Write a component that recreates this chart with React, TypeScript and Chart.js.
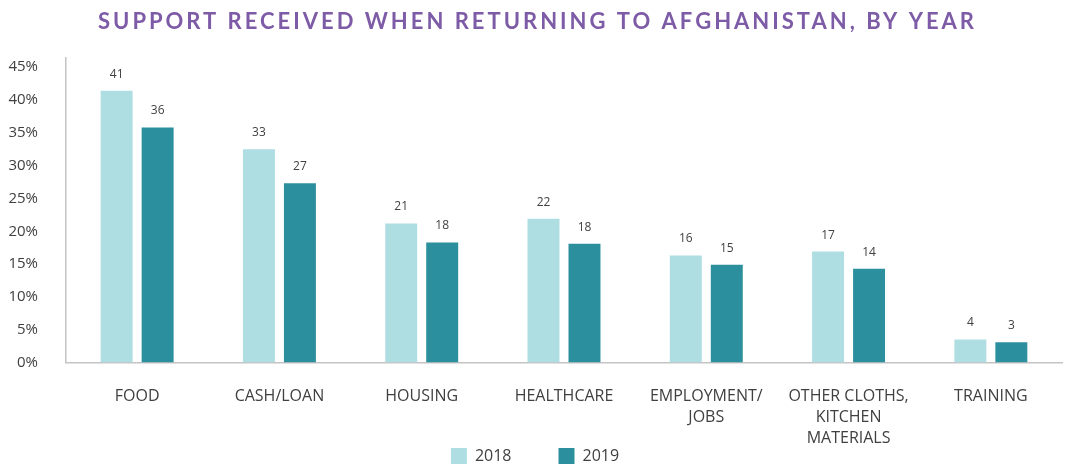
import React, { useEffect, useRef } from "react";
import { Chart, registerables } from "chart.js";

Chart.register(...registerables);

const TITLE = "SUPPORT RECEIVED WHEN RETURNING TO AFGHANISTAN, BY YEAR";
const categories: (string | string[])[] = [
  "FOOD",
  "CASH/LOAN",
  "HOUSING",
  "HEALTHCARE",
  ["EMPLOYMENT/", "JOBS"],
  ["OTHER CLOTHS,", "KITCHEN", "MATERIALS"],
  "TRAINING",
];
const values2018 = [41.4, 32.5, 21.2, 21.9, 16.3, 16.9, 3.5];
const values2019 = [35.8, 27.3, 18.3, 18.1, 14.9, 14.3, 3.1];
const seriesNames = ["2018", "2019"];
const yTicks = [0, 5, 10, 15, 20, 25, 30, 35, 40, 45];

const TEXT = "#404040";
const AXIS = "#c4c4c4";

const titlePlugin = {
  id: "spacedTitle",
  afterDraw(chart: any) {
    const ctx = chart.ctx as CanvasRenderingContext2D;
    ctx.save();
    ctx.font = "700 22px Lato, 'Open Sans', sans-serif";
    ctx.fillStyle = "#7d5ba6";
    ctx.textBaseline = "alphabetic";
    ctx.textAlign = "left";
    (ctx as any).letterSpacing = "0px";
    const w = ctx.measureText(TITLE).width;
    const left = 98;
    const right = 974;
    const ls = (right - left - w) / (TITLE.length - 1);
    (ctx as any).letterSpacing = ls + "px";
    ctx.fillText(TITLE, left, 28.5);
    ctx.restore();
  },
};

const valueLabelPlugin = {
  id: "valueLabels",
  afterLayout(chart: any) {
    // let the category labels of the x axis extend below its fitted box
    const x = chart.scales.x;
    if (x) x.bottom = chart.height;
  },
  afterDatasetsDraw(chart: any) {
    const ctx = chart.ctx as CanvasRenderingContext2D;
    ctx.save();
    ctx.font = "12px 'Open Sans', sans-serif";
    ctx.fillStyle = TEXT;
    ctx.textAlign = "center";
    ctx.textBaseline = "middle";
    chart.data.datasets.forEach((ds: any, i: number) => {
      const meta = chart.getDatasetMeta(i);
      meta.data.forEach((bar: any, j: number) => {
        ctx.fillText(String(Math.round(ds.data[j])), bar.x, bar.y - 16.5);
      });
    });
    ctx.restore();
  },
};

export default function App() {
  const ref = useRef<HTMLCanvasElement | null>(null);

  useEffect(() => {
    if (!ref.current) return;
    Chart.defaults.font.family = "'Open Sans', sans-serif";
    Chart.defaults.color = TEXT;
    const chart = new Chart(ref.current, {
      type: "bar",
      data: {
        labels: categories,
        datasets: [
          {
            label: seriesNames[0],
            data: values2018,
            backgroundColor: "#aedde2",
            borderWidth: 0,
            categoryPercentage: 0.576,
            barPercentage: 0.78,
          },
          {
            label: seriesNames[1],
            data: values2019,
            backgroundColor: "#2b8f9d",
            borderWidth: 0,
            categoryPercentage: 0.576,
            barPercentage: 0.78,
          },
        ],
      },
      options: {
        animation: false,
        responsive: true,
        maintainAspectRatio: false,
        layout: { padding: { top: 58, left: 8, right: 3, bottom: 0 } },
        plugins: {
          title: { display: false },
          tooltip: { enabled: false },
          legend: {
            position: "bottom",
            maxHeight: 64,
            labels: {
              boxWidth: 16,
              boxHeight: 16,
              padding: 47,
              color: TEXT,
              font: { size: 16, family: "'Open Sans', sans-serif" },
            },
          },
        },
        scales: {
          x: {
            grid: { display: false },
            border: { display: true, color: AXIS, width: 1.5 },
            ticks: {
              color: TEXT,
              padding: 15.5,
              maxRotation: 0,
              autoSkip: false,
              font: { size: 16, lineHeight: 1.3125, family: "'Open Sans', sans-serif" },
            },
            afterFit(scale: any) {
              scale.height = 38.5;
            },
          },
          y: {
            min: 0,
            max: 46.4,
            grid: { display: false },
            border: { display: true, color: AXIS, width: 1.5 },
            ticks: {
              stepSize: 5,
              color: TEXT,
              padding: 20,
              font: { size: 15, family: "'Open Sans', sans-serif" },
              callback: (v: any) => v + "%",
            },
            afterBuildTicks(scale: any) {
              scale.ticks = yTicks.map((v) => ({ value: v }));
            },
            afterFit(scale: any) {
              scale.width = 58;
            },
          },
        },
      },
      plugins: [titlePlugin, valueLabelPlugin],
    });
    return () => chart.destroy();
  }, []);

  return (
    <div
      style={{
        position: "fixed",
        left: 0,
        top: 0,
        width: 1065,
        height: 465,
        background: "#ffffff",
      }}
    >
      <canvas ref={ref} />
    </div>
  );
}
